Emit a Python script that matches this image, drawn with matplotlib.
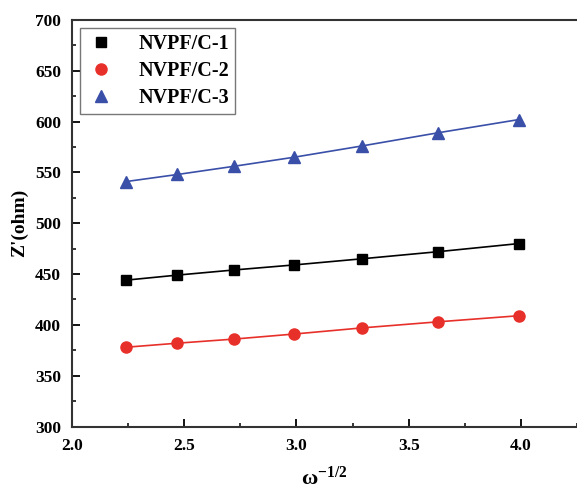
import matplotlib
matplotlib.use("Agg")
import matplotlib.pyplot as plt
from matplotlib.ticker import MultipleLocator, FormatStrFormatter

x = [2.24, 2.47, 2.72, 2.99, 3.29, 3.63, 3.99]
y1 = [444, 449, 454, 459, 465, 472, 480]
y2 = [378, 382, 386, 391, 397, 403, 409]
y3 = [541, 548, 556, 565, 576, 589, 602]
labels = ["NVPF/C-1", "NVPF/C-2", "NVPF/C-3"]

plt.rcParams['font.family'] = ['Liberation Serif', 'DejaVu Serif']
plt.rcParams['font.weight'] = 'bold'
plt.rcParams['mathtext.fontset'] = 'custom'
plt.rcParams['mathtext.rm'] = 'Liberation Serif'
plt.rcParams['mathtext.bf'] = 'Liberation Serif:bold'
plt.rcParams['mathtext.it'] = 'Liberation Serif:italic'

fig = plt.figure(figsize=(5.77, 4.88), dpi=100)
ax = fig.add_axes([0.1248, 0.126, 0.8752, 0.833])

ax.plot(x, y1, color='black', marker='s', ms=7.5, lw=1.2, label=labels[0])
ax.plot(x, y2, color='#e8302a', marker='o', ms=8, lw=1.2, label=labels[1])
ax.plot(x, y3, color='#3a4fa8', marker='^', ms=8.5, lw=1.2, label=labels[2])

ax.set_xlim(2.0, 4.25)
ax.set_ylim(300, 700)
ax.xaxis.set_major_locator(MultipleLocator(0.5))
ax.xaxis.set_minor_locator(MultipleLocator(0.25))
ax.yaxis.set_major_locator(MultipleLocator(50))
ax.yaxis.set_minor_locator(MultipleLocator(25))
ax.xaxis.set_major_formatter(FormatStrFormatter('%.1f'))
ax.tick_params(which='major', direction='in', length=6, width=1.3, labelsize=12.5, pad=8)
ax.tick_params(which='minor', direction='in', length=3, width=1.1)
ax.tick_params(top=False, right=False, which='both')
for lab in ax.get_xticklabels() + ax.get_yticklabels():
    lab.set_fontweight('bold')
ax.spines['right'].set_visible(False)
for s in ['left', 'bottom', 'top']:
    ax.spines[s].set_linewidth(1.5)
    ax.spines[s].set_color('#333333')

ax.set_xlabel(r'$\mathbf{\omega}^{\mathbf{-1/2}}$', fontsize=16, labelpad=9)
ax.set_ylabel("Z'(ohm)", fontsize=14, fontweight='bold', labelpad=5)

leg = ax.legend(loc='upper left', fontsize=14.5, frameon=True, fancybox=False,
                edgecolor='#555555', borderaxespad=0.4, handlelength=1.5,
                handletextpad=1.1, labelspacing=0.35, borderpad=0.3)
leg.get_frame().set_linewidth(1.0)
for h in leg.legend_handles:
    h.set_linestyle('none')
for t in leg.get_texts():
    t.set_fontweight('bold')

fig.savefig('out.png', dpi=100)
